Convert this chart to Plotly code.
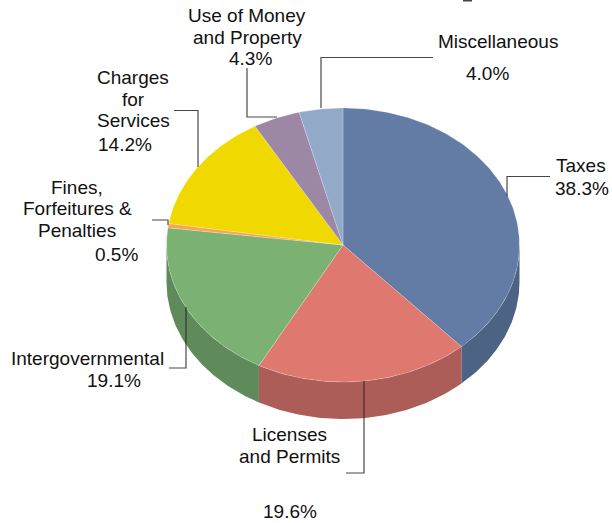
import numpy as np
import plotly.graph_objects as go

# Share of revenue by source, clockwise from twelve o'clock
categories = ["Taxes", "Licenses and Permits", "Intergovernmental",
              "Fines, Forfeitures & Penalties", "Charges for Services",
              "Use of Money and Property", "Miscellaneous"]
shares = [38.3, 19.6, 19.1, 0.5, 14.2, 4.3, 4.0]
top_colors = ["#627CA6", "#DF7970", "#7BB273", "#F9A64A", "#F0D900", "#9C88A4", "#93A9C8"]
side_colors = ["#4D6384", "#AD5D58", "#5F8B5A", "#C28239", "#BBA900", "#7A6A80", "#73849C"]

# One entry per text line: text, centre x, centre y
label_lines = [
    ("Taxes", 581, 165), ("38.3%", 582, 188),
    ("Licenses", 289, 434), ("and Permits", 289, 456), ("19.6%", 290, 511),
    ("Intergovernmental", 87, 358), ("19.1%", 114, 380),
    ("Fines,", 77, 187), ("Forfeitures &", 77, 208), ("Penalties", 77, 230), ("0.5%", 116, 254),
    ("Charges", 133, 77), ("for", 133, 99), ("Services", 133, 120), ("14.2%", 125, 144),
    ("Use of Money", 247, 15), ("and Property", 247, 37), ("4.3%", 250, 58),
    ("Miscellaneous", 498, 41), ("4.0%", 487, 73),
]

W, H = 612, 523
CX, CY, RX, RY, DEPTH = 343.0, 245.0, 176.5, 137.0, 37.0


def rim(a0, a1, n=80):
    t = np.radians(np.linspace(a0, a1, max(2, n)))
    return CX + RX * np.sin(t), CY - RY * np.cos(t)


fig = go.Figure()
edges = np.cumsum([0] + shares) * 3.6

# Outer wall, only where the rim faces the viewer
for i in range(len(shares)):
    a0, a1 = max(edges[i], 90), min(edges[i + 1], 270)
    if a1 <= a0:
        continue
    x, y = rim(a0, a1)
    fig.add_trace(go.Scatter(
        x=np.r_[x, x[::-1]], y=np.r_[y, y[::-1] + DEPTH],
        mode="lines", fill="toself", fillcolor=side_colors[i],
        line=dict(width=0), hoverinfo="skip", showlegend=False))

# Top face
for i in range(len(shares)):
    x, y = rim(edges[i], edges[i + 1], int(shares[i] * 4) + 4)
    fig.add_trace(go.Scatter(
        x=np.r_[CX, x, CX], y=np.r_[CY, y, CY],
        mode="lines", fill="toself", fillcolor=top_colors[i],
        line=dict(width=0.6, color="rgba(255,255,255,0.35)"),
        name=categories[i], hoverinfo="name", showlegend=False))

# Leader lines
leaders = [
    ([550, 507, 507], [176.5, 176.5, 196]),
    ([364, 364, 346], [381, 473, 473]),
    ([169, 186, 186], [368, 368, 307]),
    ([152, 168, 168], [220, 220, 225]),
    ([174, 198, 198], [110.5, 110.5, 167]),
    ([247, 247, 277], [68, 117, 117]),
    ([433, 321, 321], [57.5, 57.5, 108]),
]
for lx, ly in leaders:
    fig.add_trace(go.Scatter(x=lx, y=ly, mode="lines",
                             line=dict(color="rgba(40,40,40,0.85)", width=1.2),
                             hoverinfo="skip", showlegend=False))

# Sliver of the heading's descender along the top edge
fig.add_trace(go.Scatter(x=[463, 472], y=[0.5, 0.5], mode="lines",
                         line=dict(color="#444444", width=2),
                         hoverinfo="skip", showlegend=False))

FONT = dict(family="Liberation Sans, Arial, sans-serif", size=19, color="#111111")
for text, lx, ly in label_lines:
    fig.add_annotation(x=lx, y=ly, text=text, showarrow=False, font=FONT)

fig.update_layout(
    width=W, height=H, margin=dict(l=0, r=0, t=0, b=0),
    paper_bgcolor="white", plot_bgcolor="white",
    xaxis=dict(range=[0, W], visible=False, fixedrange=True),
    yaxis=dict(range=[H, 0], visible=False, fixedrange=True),
)
fig.write_html("out.html", config=dict(displayModeBar=False))
